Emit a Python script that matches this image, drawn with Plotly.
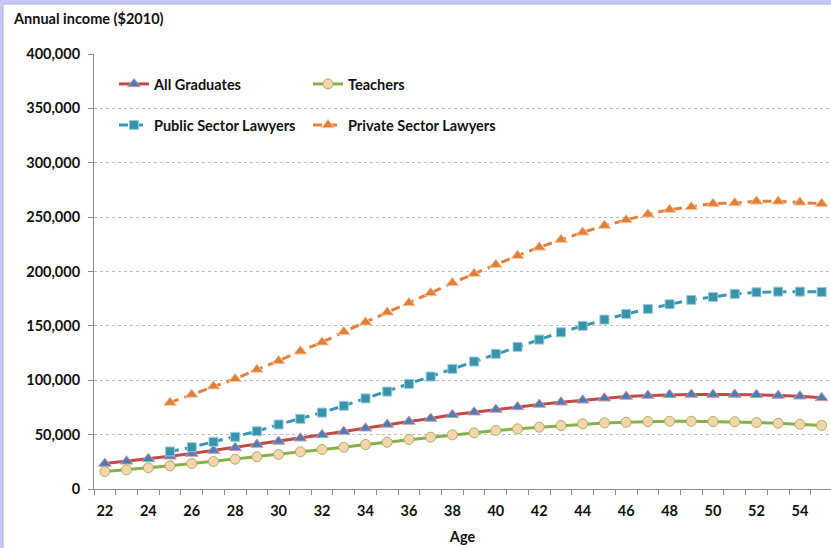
import plotly.graph_objects as go

ages = list(range(22, 56))
ages_law = list(range(25, 56))

all_graduates = [23400, 25500, 27800, 30100, 32600, 35400, 37900, 40900, 43700, 46700,
                 49800, 52800, 55900, 59300, 62000, 64800, 68200, 70600, 73100, 75500,
                 77700, 79800, 81600, 83500, 85000, 85900, 86600, 86900, 86900, 86900,
                 86600, 85900, 85300, 83800]
teachers = [16100, 17600, 19500, 21300, 23400, 25300, 27400, 29600, 31700, 34200,
            36300, 38400, 40900, 43000, 45500, 47600, 49800, 51700, 53800, 55300,
            56800, 58400, 59900, 60800, 61400, 62000, 62300, 62300, 62000, 61800,
            61100, 60500, 59600, 58400]
public_lawyers = [34500, 38400, 43400, 48000, 53100, 59300, 64500, 70300, 76500, 83300,
                  89600, 96700, 103400, 110500, 117200, 124300, 130700, 137400, 144100, 150000,
                  155800, 161000, 165600, 169900, 173900, 176600, 179400, 180900, 181500, 181500,
                  181200]
private_lawyers = [79500, 86900, 94500, 101300, 109800, 117800, 126700, 134900, 144500, 153300,
                   162500, 171100, 180300, 189500, 198100, 206300, 214600, 222200, 229300, 236000,
                   242200, 247400, 252600, 256900, 259400, 262400, 263000, 264500, 264500, 263600,
                   262400]

y_ticks = [0, 50000, 100000, 150000, 200000, 250000, 300000, 350000, 400000]
y_labels = ["0", "50,000", "100,000", "150,000", "200,000", "250,000", "300,000", "350,000", "400,000"]
x_ticks = list(range(22, 56, 2))

FONT = "Lato"
FS = 14.5
TXT = "#111111"

fig = go.Figure()
fig.add_trace(go.Scatter(
    x=ages, y=all_graduates, name="All Graduates", mode="lines+markers",
    line=dict(color="#BE4B48", width=3),
    marker=dict(symbol="triangle-up", size=11, color="#4A7EBB",
                line=dict(color="#D99694", width=1)),
    legend="legend"))
fig.add_trace(go.Scatter(
    x=ages, y=teachers, name="Teachers", mode="lines+markers",
    line=dict(color="#8AAF4A", width=3),
    marker=dict(symbol="circle", size=10, color="#FAD2AE",
                line=dict(color="#9BBB59", width=1)),
    legend="legend"))
fig.add_trace(go.Scatter(
    x=ages_law, y=public_lawyers, name="Public Sector Lawyers", mode="lines+markers",
    line=dict(color="#3C97B0", width=3, dash="9px,6px"),
    marker=dict(symbol="square", size=9, color="#3A93AB",
                line=dict(color="#93CDDD", width=1)),
    legend="legend2"))
fig.add_trace(go.Scatter(
    x=ages_law, y=private_lawyers, name="Private Sector Lawyers", mode="lines+markers",
    line=dict(color="#E3813E", width=3, dash="9px,6px"),
    marker=dict(symbol="triangle-up", size=11, color="#E08038",
                line=dict(color="#F5C7A0", width=1)),
    legend="legend2"))

W, H = 831, 548
L, R, T, B = 94, 0, 54, 59
pw, ph = W - L - R, H - T - B

def px(xp):
    return (xp - L) / pw

def py(yp):
    return (H - B - yp) / ph

legend_common = dict(orientation="h", xanchor="left", yanchor="middle",
                     bgcolor="rgba(0,0,0,0)", entrywidth=149, entrywidthmode="pixels",
                     font=dict(family=FONT, size=FS, color=TXT, weight="bold"),
                     itemwidth=30, tracegroupgap=0)

fig.update_layout(
    width=W, height=H,
    margin=dict(l=L, r=R, t=T, b=B, pad=0),
    paper_bgcolor="#C8C8FF", plot_bgcolor="white",
    font=dict(family=FONT, size=FS, color=TXT),
    showlegend=True,
    legend=dict(x=px(114), y=py(84), **legend_common),
    legend2=dict(x=px(114), y=py(125), **legend_common),
    xaxis=dict(
        range=[21.5, 21.5 + pw / 21.72], tickmode="array", tickvals=x_ticks,
        ticktext=[str(v) for v in x_ticks], ticks="", showgrid=False,
        showline=True, linecolor="#8C8C8C", linewidth=1, zeroline=False,
        tickfont=dict(family=FONT, size=FS, color=TXT, weight="bold"),
        ticklabelstandoff=9,
        minor=dict(tickmode="linear", tick0=21.5, dtick=1, ticks="outside",
                   ticklen=5, tickcolor="#8C8C8C", showgrid=False),
        title=dict(text="Age", font=dict(family=FONT, size=FS, color=TXT, weight="bold"),
                   standoff=13),
    ),
    yaxis=dict(
        range=[0, 400000], tickmode="array", tickvals=y_ticks, ticktext=y_labels,
        ticks="outside", ticklen=5, tickcolor="#8C8C8C",
        showgrid=True, gridcolor="#BDBDBD", griddash="dot", gridwidth=1,
        showline=True, linecolor="#8C8C8C", linewidth=1, zeroline=False,
        tickfont=dict(family=FONT, size=FS, color=TXT, weight="bold"),
        ticklabelstandoff=5,
    ),
    shapes=[
        dict(type="rect", xref="paper", yref="paper", x0=px(3), x1=px(W + 5),
             y0=py(H + 2), y1=py(4), fillcolor="white",
             line=dict(color="#B0B0B0", width=1), layer="below"),
    ],
    annotations=[
        dict(text="Annual income ($2010)", xref="paper", yref="paper",
             x=px(11), y=py(19), xanchor="left", yanchor="middle", showarrow=False,
             font=dict(family=FONT, size=FS, color=TXT, weight="bold")),
    ],
)

fig.write_html("out.html", config={"displayModeBar": False},
               post_script="document.body.style.margin='0';")
